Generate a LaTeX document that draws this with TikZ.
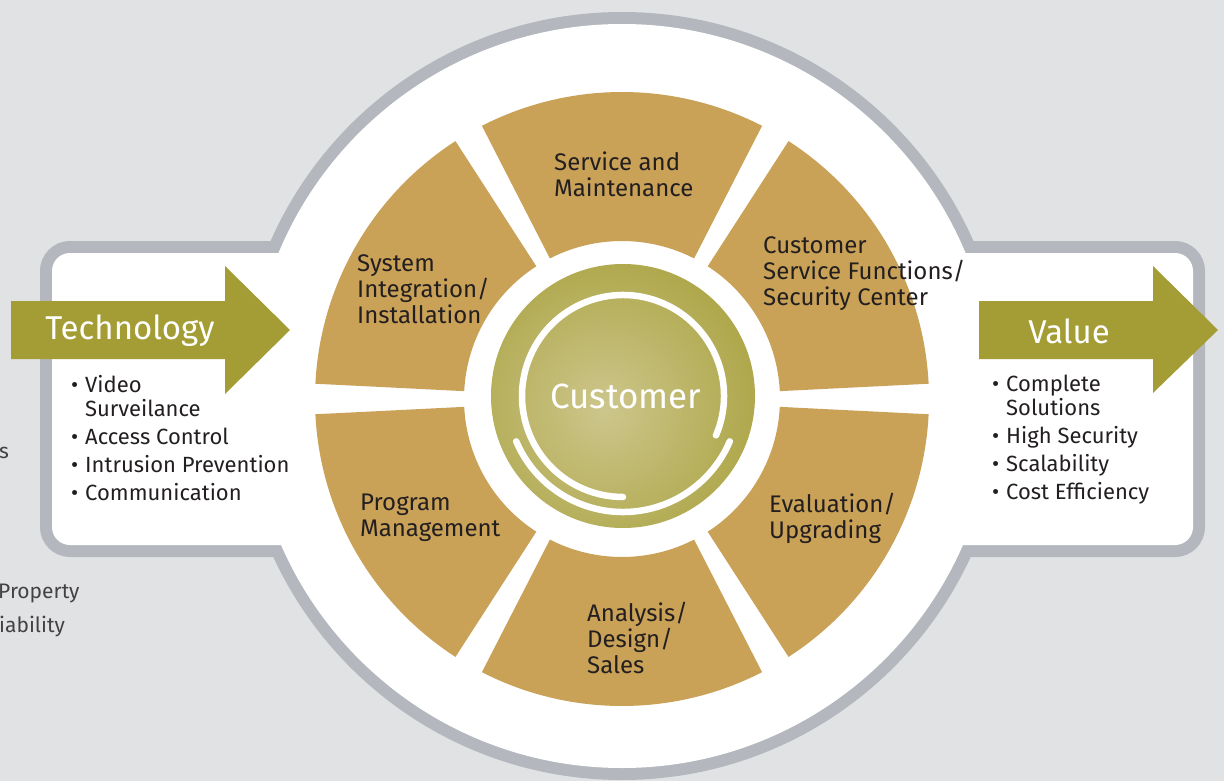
\documentclass[tikz,border=0pt]{standalone}
\usepackage{fontspec}
\setmainfont{Fira Sans}
\usepackage{tikz}
\usetikzlibrary{positioning, calc}
\definecolor{bggray}{HTML}{E1E2E4}
\definecolor{ringgray}{HTML}{B4B8BE}
\definecolor{segtan}{HTML}{C9A157}
\definecolor{olivegreen}{HTML}{A49D35}
\definecolor{olivelight}{HTML}{CDC68C}
\definecolor{darktext}{HTML}{231F20}
\tikzset{
  segtext/.style={anchor=west, align=left, inner sep=0pt, text=darktext, font=\fontsize{24}{26}\selectfont},
  listtext/.style={anchor=north west, align=left, inner sep=0pt, text=darktext, font=\fontsize{22}{24}\selectfont},
  arrowtext/.style={inner sep=0pt, text=white, font=\fontsize{33}{36}\selectfont},
  edgetext/.style={anchor=west, inner sep=0pt, text=darktext!85, font=\fontsize{21}{24}\selectfont},
  whitearc/.style={white, line width=6.5pt, line cap=round},
  bigarrow/.style={fill=olivegreen},
}
\newcommand{\listbul}{\makebox[14pt][l]{\textbullet}}
\newcommand{\listgap}{\hspace*{14pt}}

\begin{document}
\begin{tikzpicture}[x=1pt, y=1pt]
  \useasboundingbox (0,0) rectangle (1224,-781);
  \fill[bggray] (0,0) rectangle (1224,-781);

  % Clipped text on the left edge
  \node[edgetext] (cut1) at (-1,-453) {s};
  \node[edgetext] (cut2) at (-2,-593) {Property};
  \node[edgetext] (cut3) at (-1,-627) {iability};

  % Outline: circle and band
  \coordinate (C) at (622,-399);
  \coordinate (O) at (623,-396);
  \draw[ringgray, line width=24pt] (622,-396) circle (372);
  \draw[ringgray, line width=24pt, rounded corners=18pt] (52,-253) rectangle (1193,-545);
  \fill[white] (622,-396) circle (372);
  \fill[white, rounded corners=18pt] (52,-253) rectangle (1193,-545);

  % Segments
  \foreach \a in {90,30,-30,-90,-150,150}{
    \fill[segtan] ($(C)+(\a-27.15:158)$) arc[start angle=\a-27.15, end angle=\a+27.15, radius=158]
      -- ($(C)+(\a+27.15:307)$) arc[start angle=\a+27.15, end angle=\a-27.15, radius=307] -- cycle;
  }

  % Centre
  \begin{scope}
    \clip (O) circle (132);
    \shade[inner color=olivelight, outer color=olivegreen] (604,-408) circle (205);
  \end{scope}
  \draw[whitearc] (O) ++(-23:101) arc[start angle=-23, end angle=270, radius=101];
  \draw[whitearc] (O) ++(203:116) arc[start angle=203, end angle=337, radius=116];
  \node[arrowtext, font=\fontsize{35}{38}\selectfont] (cust) at (626,-396) {Customer};

  % Arrows
  \fill[bigarrow] (11,-301) -- (225,-301) -- (225,-266) -- (290,-330) -- (225,-394) -- (225,-359) -- (11,-359) -- cycle;
  \fill[bigarrow] (979,-301) -- (1153,-301) -- (1153,-266) -- (1218,-330) -- (1153,-393) -- (1153,-359) -- (979,-359) -- cycle;
  \node[arrowtext] (tech) at (130,-331) {Technology};
  \node[arrowtext] (val) at (1069,-331) {Value};

  % Lists
  \node[listtext] (techlist) at (71,-375) {\listbul Video\\\listgap Surveilance\\[4pt]\listbul Access Control\\[4pt]\listbul Intrusion Prevention\\[4pt]\listbul Communication};
  \node[listtext] (vallist) at (992,-375) {\listbul Complete\\\listgap Solutions\\[4pt]\listbul High Security\\[4pt]\listbul Scalability\\[4pt]\listbul Cost Efficiency};

  % Segment labels
  \node[segtext] (svc) at (554,-174) {Service and\\Maintenance};
  \node[segtext] (csf) at (763,-274) {Customer\\Service Functions/\\Security Center};
  \node[segtext] (sys) at (357,-289) {System\\Integration/\\Installation};
  \node[segtext] (prog) at (360,-518) {Program\\Management};
  \node[segtext] (ana) at (587,-638) {Analysis/\\Design/\\Sales};
  \node[segtext] (evl) at (769,-518) {Evaluation/\\Upgrading};
\end{tikzpicture}
\end{document}
